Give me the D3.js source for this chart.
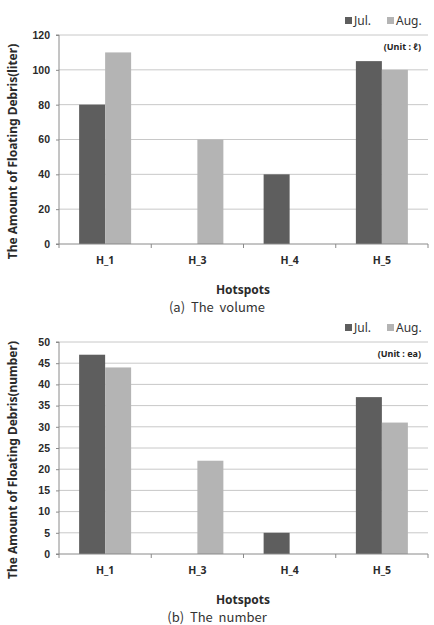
<!DOCTYPE html>
<html>
<head>
<meta charset="utf-8">
<script src="https://cdn.jsdelivr.net/npm/d3@7"></script>
<style>
  body { margin: 0; background: #fff; }
  svg { display: block; font-family: "Noto Sans", "Noto Sans CJK KR", sans-serif; }
</style>
</head>
<body>
<svg id="chart" width="434" height="625"></svg>
<script>
// data
const hotspots = ['H_1', 'H_3', 'H_4', 'H_5']
const months = ['Jul.', 'Aug.']
const volumeJul = [80, 0, 40, 105]
const volumeAug = [110, 60, 0, 100]
const numberJul = [47, 0, 5, 37]
const numberAug = [44, 22, 0, 31]
const volumeTicks = [0, 20, 40, 60, 80, 100, 120]
const numberTicks = [0, 5, 10, 15, 20, 25, 30, 35, 40, 45, 50]

const colors = { 'Jul.': '#5e5e5e', 'Aug.': '#b4b4b4' }

const svg = d3.select('#chart')

function drawChart(opt) {
	const left = 59, right = 428
	const g = svg.append('g')

	const x = d3.scaleBand().domain(hotspots).range([left, right])
	const y = d3.scaleLinear().domain([0, d3.max(opt.ticks)]).range([opt.bottom, opt.top])

	//gridlines
	g.selectAll('.grid')
		.data(opt.ticks.slice(1))
		.enter()
		.append('line')
		.attr('x1', left)
		.attr('x2', right)
		.attr('y1', d => y(d))
		.attr('y2', d => y(d))
		.attr('stroke', '#c8c8c8')
		.attr('stroke-width', 1)

	//bars
	const barW = 26
	const rows = hotspots.map((h, i) => ({ h: h, 'Jul.': opt.jul[i], 'Aug.': opt.aug[i] }))
	months.forEach((m, k) => {
		g.selectAll('.bar' + k)
			.data(rows.filter(d => d[m] > 0))
			.enter()
			.append('rect')
			.attr('x', d => x(d.h) + x.bandwidth() / 2 + (k - 1) * barW)
			.attr('y', d => y(d[m]))
			.attr('width', barW)
			.attr('height', d => opt.bottom - y(d[m]))
			.attr('fill', colors[m])
	})

	//y axis
	const yAxis = d3.axisLeft(y).tickValues(opt.ticks).tickSize(3).tickPadding(6)
	const ya = g.append('g').attr('transform', 'translate(' + left + ',0)').call(yAxis)
	ya.select('.domain').attr('stroke', '#8a8a8a').attr('d', 'M-3,' + opt.top + 'H0V' + opt.bottom + 'H-3')
	ya.selectAll('.tick line').attr('stroke', '#8a8a8a')
	ya.selectAll('.tick text')
		.attr('fill', '#2a2a2a')
		.style('font-size', '10.5px')
		.style('font-weight', 'bold')

	//x axis
	const xa = g.append('g').attr('transform', 'translate(0,' + opt.bottom + ')')
	xa.append('line')
		.attr('x1', left).attr('x2', right)
		.attr('stroke', '#8a8a8a')
	xa.selectAll('.xt')
		.data(d3.range(hotspots.length + 1))
		.enter()
		.append('line')
		.attr('x1', i => left + i * x.step())
		.attr('x2', i => left + i * x.step())
		.attr('y1', 0).attr('y2', 4)
		.attr('stroke', '#8a8a8a')
	xa.selectAll('.xl')
		.data(hotspots)
		.enter()
		.append('text')
		.attr('x', d => x(d) + x.bandwidth() / 2)
		.attr('y', 20)
		.attr('text-anchor', 'middle')
		.attr('fill', '#2a2a2a')
		.style('font-size', '10.5px')
		.style('font-weight', 'bold')
		.text(d => d)

	//axis titles
	g.append('text')
		.attr('x', 243).attr('y', opt.bottom + 50)
		.attr('text-anchor', 'middle')
		.attr('fill', '#2a2a2a')
		.style('font-size', '12px')
		.style('font-weight', 'bold')
		.text('Hotspots')
	g.append('text')
		.attr('transform', 'translate(17,' + ((opt.top + opt.bottom) / 2 + 12) + ') rotate(-90)')
		.attr('text-anchor', 'middle')
		.attr('fill', '#2a2a2a')
		.style('font-size', '12px')
		.style('font-weight', 'bold')
		.text(opt.yTitle)

	//legend
	const lg = g.append('g').attr('transform', 'translate(0,' + (opt.top - 14) + ')')
	const legendX = [345, 387]
	months.forEach((m, k) => {
		lg.append('rect')
			.attr('x', legendX[k]).attr('y', -4)
			.attr('width', 7).attr('height', 7)
			.attr('fill', colors[m])
		lg.append('text')
			.attr('x', legendX[k] + 9).attr('y', 4)
			.attr('fill', '#333')
			.style('font-size', '12px')
			.text(m)
	})

	//unit note
	g.append('text')
		.attr('x', 421).attr('y', opt.top + 15)
		.attr('text-anchor', 'end')
		.attr('fill', '#222')
		.style('font-size', '9px')
		.style('font-weight', 'bold')
		.text(opt.unit)

	//caption
	g.append('text')
		.attr('x', 217).attr('y', opt.bottom + 68)
		.attr('text-anchor', 'middle')
		.attr('fill', '#333')
		.style('font-size', '13px')
		.style('white-space', 'pre')
		.style('font-family', '"Noto Sans CJK KR", sans-serif')
		.text(opt.caption)
}

drawChart({
	jul: volumeJul, aug: volumeAug, ticks: volumeTicks,
	top: 35, bottom: 244,
	yTitle: 'The Amount of Floating Debris(liter)',
	unit: '(Unit : ℓ)',
	caption: '(a)  The  volume'
})

drawChart({
	jul: numberJul, aug: numberAug, ticks: numberTicks,
	top: 342, bottom: 554,
	yTitle: 'The Amount of Floating Debris(number)',
	unit: '(Unit : ea)',
	caption: '(b)  The  number'
})
</script>
</body>
</html>
